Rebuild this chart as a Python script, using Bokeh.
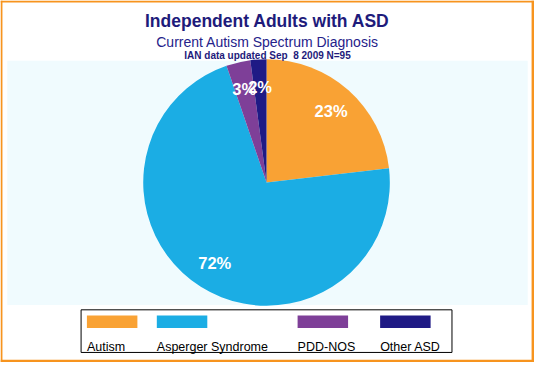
import math
from bokeh.plotting import figure
from bokeh.models import Range1d, ColumnDataSource
from bokeh.core.properties import value
from bokeh.embed import file_html
from bokeh.resources import INLINE

# ---- data ----
categories = ["Autism", "Asperger Syndrome", "PDD-NOS", "Other ASD"]
counts = [22, 68, 3, 2]
colors = ["#F9A234", "#1BADE4", "#7E3F98", "#1F1A85"]
title_text = "Independent Adults with ASD"
subtitle_text = "Current Autism Spectrum Diagnosis"
note_text = "IAN data updated Sep \u00a08 2009 N=95"

FONT = value("Liberation Sans")
H = 378  # reference height, used to flip y (y_up = H - y_down)

p = figure(width=534, height=362, output_backend="svg", toolbar_location=None,
           x_range=Range1d(0, 550), y_range=Range1d(0, H),
           min_border=0)
p.axis.visible = False
p.grid.visible = False
p.outline_line_color = None
p.background_fill_color = "white"
p.border_fill_color = "white"

# light panel
p.quad(left=[7], right=[543], bottom=[H - 318], top=[H - 63],
       fill_color="#F0FBFE", line_color=None)

# pie
total = sum(counts)
cx, cy, r = 274, H - 190, 127
starts, ends, lx, ly, labels = [], [], [], [], []
cum = 0.0
for c in counts:
    f0 = cum / total
    cum += c
    f1 = cum / total
    a_start = math.pi / 2 - f1 * 2 * math.pi
    a_end = math.pi / 2 - f0 * 2 * math.pi
    starts.append(a_start)
    ends.append(a_end)
    mid = (a_start + a_end) / 2
    lx.append(cx + 100 * math.cos(mid))
    ly.append(cy + 100 * math.sin(mid))
    labels.append(f"{round(100 * c / total)}%")

src = ColumnDataSource(dict(start=starts, end=ends, color=colors,
                            lx=lx, ly=ly, label=labels))
p.wedge(x=cx, y=cy, radius=r, start_angle="start", end_angle="end",
        direction="anticlock", fill_color="color", line_color=None, source=src)
p.text(x="lx", y="ly", text="label", source=src, text_color="white",
       text_font=FONT, text_font_style="bold", text_font_size="16.5px",
       text_align="center", text_baseline="middle")

# titles
p.text(x=[275], y=[H - 21], text=[title_text], text_font=FONT,
       text_font_style="bold", text_font_size="17.5px", text_color="#1e1b7b",
       text_align="center", text_baseline="alphabetic")
p.text(x=[275], y=[H - 43], text=[subtitle_text], text_font=FONT,
       text_font_size="14px", text_color="#25228a",
       text_align="center", text_baseline="alphabetic")
p.text(x=[275], y=[H - 57], text=[note_text], text_font=FONT,
       text_font_style="bold", text_font_size="10px", text_color="#1e1b7b",
       text_align="center", text_baseline="alphabetic")

# legend
p.quad(left=[83], right=[465], bottom=[H - 367.5], top=[H - 323],
       fill_color="white", line_color="black", line_width=1)
sw_left = [89, 161, 306, 391]
p.quad(left=sw_left, right=[v + 52 for v in sw_left],
       bottom=[H - 342] * 4, top=[H - 329] * 4,
       fill_color=colors, line_color=None)
p.text(x=sw_left, y=[H - 362] * 4, text=categories, text_font=FONT,
       text_font_size="12.5px", text_color="black",
       text_align="left", text_baseline="alphabetic")

# orange frame
ob = "#F7941E"
p.quad(left=[0, 0, 0, 547], right=[550, 550, 2, 550],
       bottom=[H - 2, 0, 0, 0],
       top=[H, 3, H, H],
       fill_color=ob, line_color=None)

open("out.html", "w").write(file_html(p, INLINE))
